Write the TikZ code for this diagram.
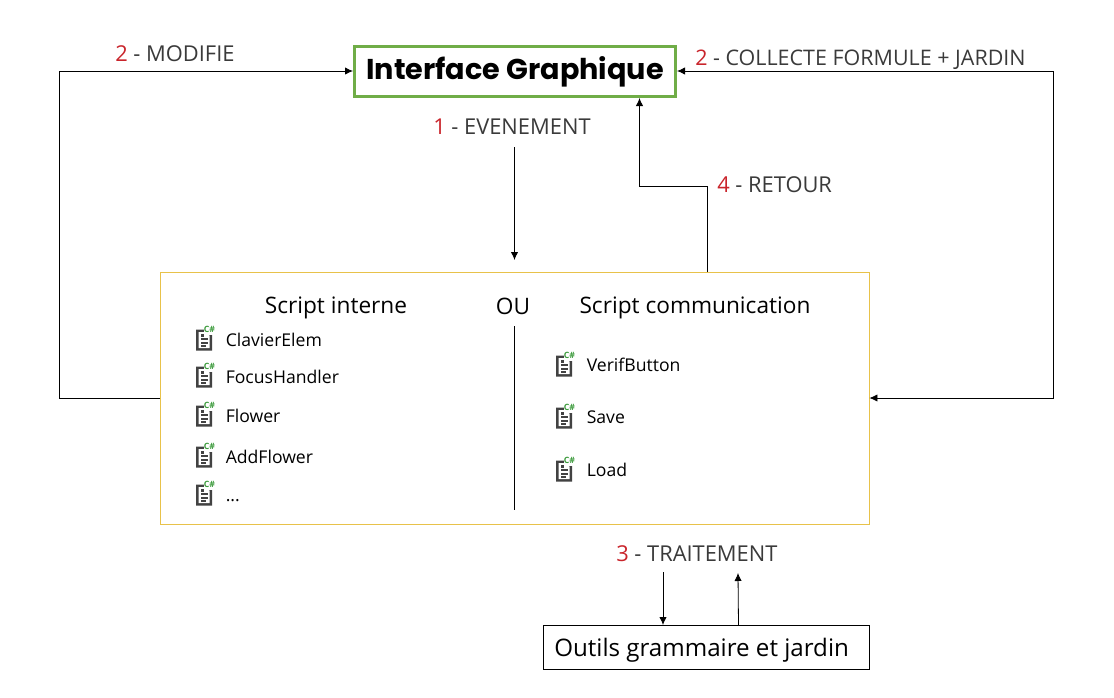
\documentclass[tikz,border=0pt]{standalone}
\usepackage{fontspec}
\setmainfont{Open Sans}
\newfontfamily\titlefont{Poppins}
\usetikzlibrary{arrows.meta}
\definecolor{ngreen}{HTML}{70AD47}
\definecolor{nyellow}{HTML}{E8C24A}
\definecolor{nred}{HTML}{C9242B}
\definecolor{ngrey}{HTML}{3A3A3A}
\definecolor{icondark}{HTML}{424242}
\definecolor{icongreen}{HTML}{3A9A3A}
\newcommand{\threedots}{.{}.{}.}
\tikzset{
  conn/.style={draw=black,line width=0.6pt,-{Latex[length=6pt,width=5.5pt]}},
  plainconn/.style={draw=black,line width=0.6pt},
  steplabel/.style={inner sep=0pt,anchor=base west,text=ngrey,font=\fontsize{16.4}{18}\selectfont},
  heading/.style={inner sep=0pt,anchor=base,text=black,font=\fontsize{17}{20}\selectfont},
  scriptname/.style={inner sep=0pt,anchor=base west,text=black,font=\fontsize{13.2}{15}\selectfont},
  iconpic/.pic={
    \fill[icondark] (-8,-10.5) -- (3,-10.5) -- (8,-6) -- (8,10.5) -- (-8,10.5) -- cycle;
    \fill[white] (-5.5,-8) -- (1.5,-8) -- (5.5,-4.5) -- (5.5,8) -- (-5.5,8) -- cycle;
    \fill[icondark] (-3.5,-6.5) rectangle (-0.5,-3.5);
    \fill[icondark] (-3.5,-1.8) rectangle (4,0);
    \fill[icondark] (-3.5,2) rectangle (4,3.7);
    \fill[icondark] (-3.5,5.2) rectangle (1.5,6.7);
    \fill[white] (0,-14) rectangle (11,-5);
    \node[inner sep=0pt,text=icongreen,font=\bfseries\fontsize{6.5}{7}\selectfont] at (5.5,-10.5) {C\#};
  }
}
\begin{document}
\begin{tikzpicture}[x=0.75pt,y=-0.75pt]
\useasboundingbox (0,0) rectangle (1114,697);
% boxes
\node[draw=ngreen,line width=2.25pt,minimum width=0.75pt*321,minimum height=0.75pt*50,inner sep=0pt,
  font=\titlefont\bfseries\fontsize{21.5}{24}\selectfont,text=black] (gui) at (515,71.5) {\textbf{Interface Graphique}};
\node[draw=nyellow,line width=0.6pt,minimum width=0.75pt*709,minimum height=0.75pt*252,inner sep=0pt] (main) at (514.5,398) {};
\node[draw=black,line width=0.7pt,minimum width=0.75pt*326,minimum height=0.75pt*44,inner sep=0pt] (tools) at (706,647) {};
\node[inner sep=0pt,anchor=base west,text=black,font=\fontsize{18.1}{22}\selectfont] (toolstext) at (554,656) {Outils grammaire et jardin};
% step labels
\node[steplabel] (lmod) at (115,61.5) {\textcolor{nred}{2} - MODIFIE};
\node[steplabel,font=\fontsize{16.1}{18}\selectfont] (lcol) at (695,65) {\textcolor{nred}{2} - COLLECTE FORMULE + JARDIN};
\node[steplabel] (leve) at (433,134) {\textcolor{nred}{1} - EVENEMENT};
\node[steplabel] (lret) at (717,192) {\textcolor{nred}{4} - RETOUR};
\node[steplabel] (ltra) at (616,561) {\textcolor{nred}{3} - TRAITEMENT};
% headings
\node[heading] (hint) at (336,313) {Script interne};
\node[heading] (hou) at (513,314) {OU};
\node[heading] (hcom) at (695,313) {Script communication};
% script lists
\foreach \nm/\ix/\iy/\tx/\ty/\lab in {
  a/204/340/225.5/346/ClavierElem,
  b/204/377/225.5/383/FocusHandler,
  c/204/416/225.5/422/Flower,
  d/204/457/225.5/463/AddFlower,
  e/204/495/225.5/501/\threedots,
  f/564/366/586.5/371/VerifButton,
  g/564/418/586.5/423/Save,
  h/564/471/586.5/476/Load}{
  \pic at (\ix,\iy) {iconpic};
  \node[scriptname] (s\nm) at (\tx,\ty) {\lab};
}
% free ends
\coordinate (modL) at (59,398);
\coordinate (modT) at (59,71);
\coordinate (colT) at (1053,71);
\coordinate (colB) at (1053,398);
\coordinate (eveA) at (514.5,147);
\coordinate (eveB) at (514.5,260);
\coordinate (retS) at (707,272);
\coordinate (retM) at (707,186);
\coordinate (retN) at (639.5,186);
\coordinate (traA) at (663,572);
\coordinate (traB) at (663,625);
\coordinate (trbA) at (738.5,625);
\coordinate (trbB) at (738,573);
\coordinate (divA) at (514.5,326);
\coordinate (divB) at (514.5,510);
% connectors
\draw[conn] (main.west |- modL) -- (modL) -- (modT) -- (gui.west |- modT);
\draw[conn,{Latex[length=6pt,width=5.5pt]}-{Latex[length=6pt,width=5.5pt]}] (gui.east |- colT) -- (colT) -- (colB) -- (main.east |- colB);
\draw[conn] (eveA) -- (eveB);
\draw[conn] (retS) -- (retM) -- (retN) -- (retN |- gui.south);
\draw[conn] (traA) -- (traB);
\draw[conn] (trbA) -- (trbB);
\draw[plainconn] (divA) -- (divB);
\end{tikzpicture}
\end{document}
